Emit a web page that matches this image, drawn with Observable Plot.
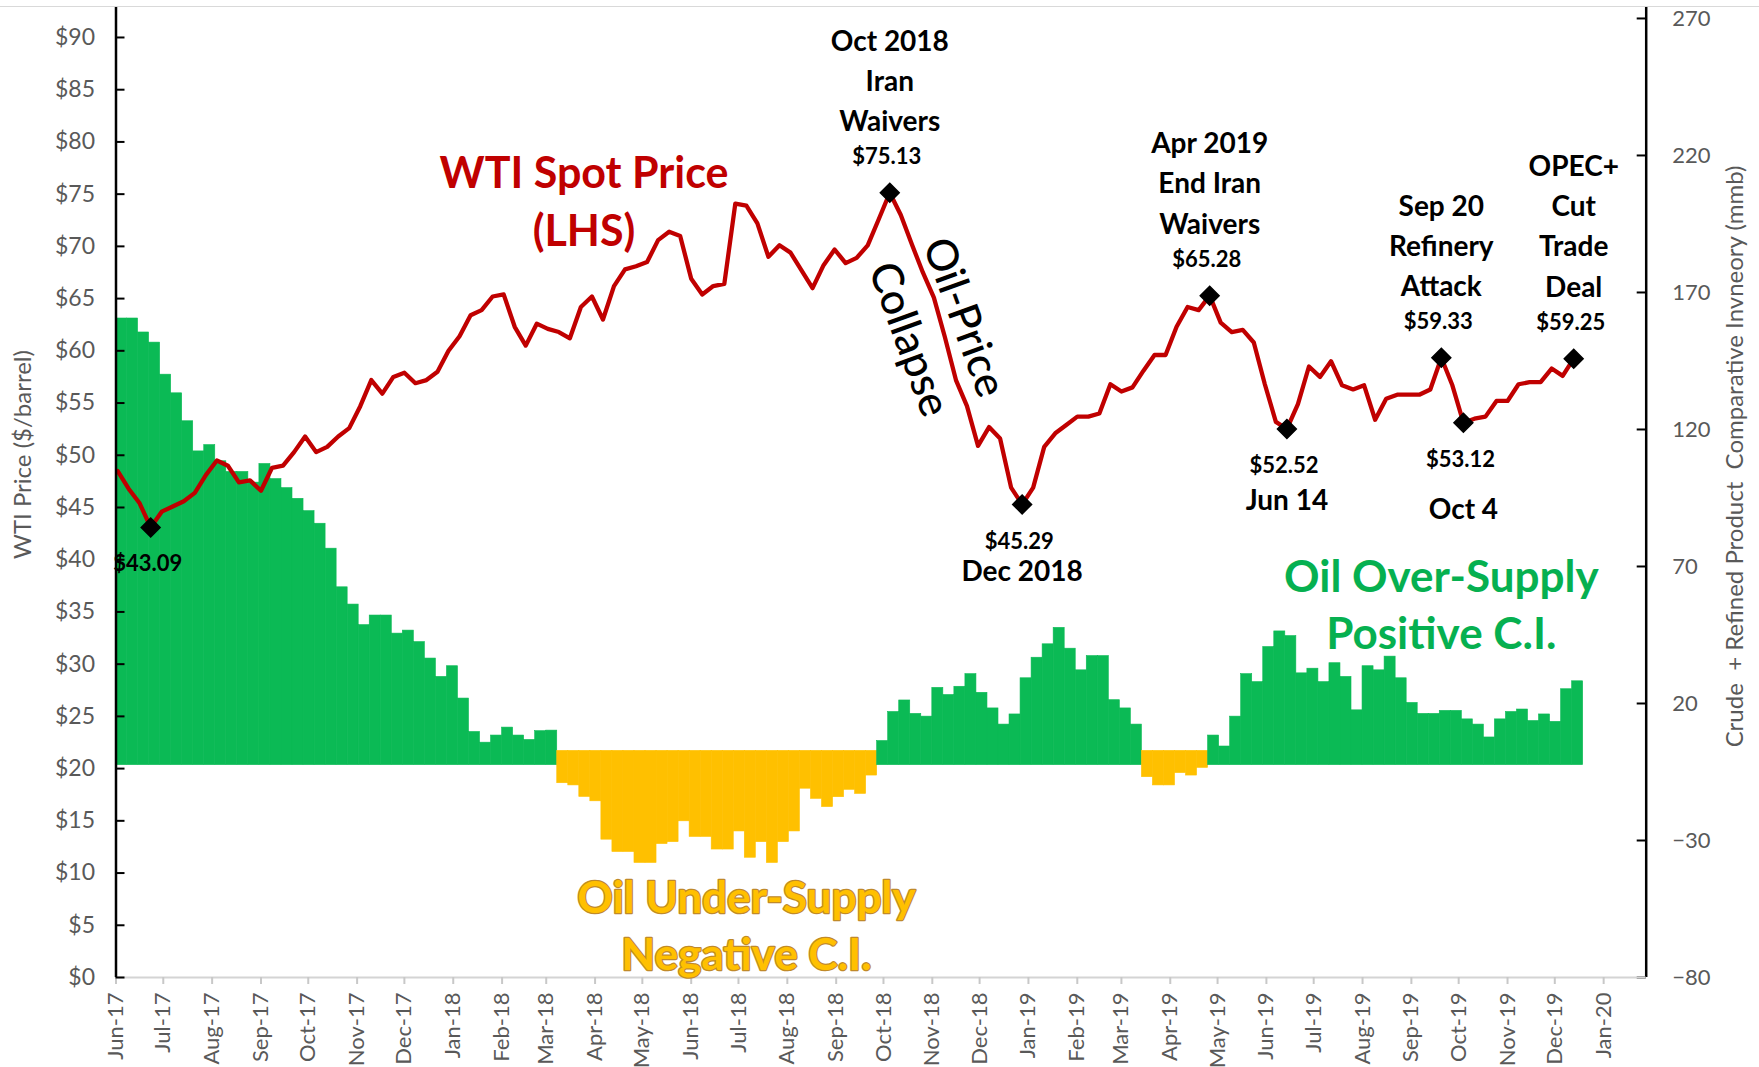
<!DOCTYPE html>
<html><head><meta charset="utf-8">
<script src="https://cdn.jsdelivr.net/npm/d3@7"></script>
<script src="https://cdn.jsdelivr.net/npm/@observablehq/plot@0.6"></script>
<style>
html,body{margin:0;padding:0;background:#fff;}
#wrap{position:relative;width:1759px;height:1067px;overflow:hidden;background:#fff;}
#wrap svg{position:absolute;left:0;top:0;}
#topline{position:absolute;left:0;top:6px;width:1759px;height:1px;background:#d9d9d9;}
svg text{white-space:pre;}
</style></head><body>
<div id="wrap"><div id="topline"></div></div>
<script>
// ---------------- DATA ----------------
const weekStart = "2017-06-02"; // first weekly observation (Fridays)

// WTI weekly spot price ($/barrel), LHS
const wtiPrice = [
 48.5,46.8,45.4,43.09,44.6,45.1,45.6,46.4,48.1,49.5,
 49.0,47.4,47.6,46.6,48.8,49.0,50.3,51.8,50.3,50.8,
 51.8,52.6,54.7,57.2,55.9,57.5,57.9,56.9,57.2,58.0,
 60.0,61.4,63.4,63.9,65.2,65.4,62.3,60.5,62.6,62.1,
 61.8,61.2,64.2,65.2,63.0,66.2,67.8,68.1,68.5,70.6,
 71.4,71.0,66.9,65.4,66.2,66.4,74.1,73.9,72.2,69.0,
 70.1,69.4,67.7,66.0,68.2,69.7,68.4,68.9,70.1,72.6,
 75.13,73.0,70.2,67.5,65.1,61.3,57.2,54.7,50.9,52.7,
 51.6,46.9,45.29,46.9,50.8,52.1,52.9,53.7,53.7,54.0,
 56.8,56.1,56.5,58.1,59.6,59.6,62.3,64.2,63.9,65.28,
 62.7,61.8,62.0,60.8,56.8,53.2,52.52,54.9,58.5,57.5,
 59.0,56.7,56.3,56.7,53.4,55.4,55.8,55.8,55.8,56.3,
 59.33,56.7,53.12,53.5,53.7,55.2,55.2,56.8,57.0,57.0,
 58.3,57.6,59.25
];

// Crude + refined product comparative inventory (mmb), RHS
const ciValues = [
 160.5,160.5,155.4,151.7,140.0,133.2,123.0,112.0,114.3,108.4,
 104.5,104.5,100.6,107.4,101.9,98.6,94.7,90.2,85.6,76.5,
 62.4,56.1,48.6,52.1,52.1,45.5,46.6,42.4,36.4,29.7,
 33.6,21.8,9.6,5.7,8.3,11.2,8.3,6.7,9.9,10.1,
 -9.1,-9.9,-14.1,-15.7,-29.7,-34.2,-34.2,-38.2,-38.2,-31.3,
 -30.6,-23.0,-28.7,-28.7,-33.3,-33.3,-26.7,-36.3,-30.6,-38.2,
 -30.6,-26.7,-11.1,-14.8,-17.8,-14.2,-11.5,-13.0,-6.3,
 6.3,16.9,21.1,16.2,15.2,25.7,23.1,26.1,30.7,23.9,
 18.2,12.3,16.0,29.2,36.7,41.6,47.6,40.0,32.1,37.3,
 37.3,21.2,18.2,12.3,
 -6.9,-9.9,-9.9,-5.4,-6.3,-3.5,
 8.3,4.3,15.2,30.7,27.8,40.6,46.3,44.6,31.0,32.7,
 27.8,34.7,29.7,17.5,33.6,32.1,37.1,29.2,20.2,16.2,
 16.2,17.3,17.3,14.2,12.3,7.6,14.2,16.9,17.8,13.6,
 16.0,13.3,25.2,28.1
];

// Highlighted weeks (index into the weekly series) and their labels
const keyWeeks  = [3, 70, 82, 99, 106, 120, 122, 132];
const keyLabels = ["$43.09","$75.13","$45.29","$65.28","$52.52","$59.33","$53.12","$59.25"];
const keyTitles = ["", "Oct 2018\nIran\nWaivers", "Dec 2018", "Apr 2019\nEnd Iran\nWaivers",
                   "Jun 14", "Sep 20\nRefinery\nAttack", "Oct 4", "OPEC+\nCut\nTrade\nDeal"];

// Axis ticks
const leftTicks  = [0,5,10,15,20,25,30,35,40,45,50,55,60,65,70,75,80,85,90];
const rightTicks = [270,220,170,120,70,20,-30,-80];

// ---------------- BUILD ----------------
const W = 1759, H = 1067;
const mL = 115.5, mR = 113.3, mT = 7, mB = 90;
const plotW = W - mL - mR;
const xDomain = [new Date(Date.UTC(2017,5,1)), new Date(Date.UTC(2020,0,28))];
const monthTicks = d3.utcMonth.range(xDomain[0], d3.utcDay.offset(xDomain[1], 1));
const GREEN = "#0bba55", GOLD = "#ffc000", RED = "#c00000", GREY = "#595959";
const FONT = "Lato, 'Open Sans', sans-serif";

const t0 = new Date(weekStart + "T00:00:00Z");
const weeks = wtiPrice.map((p, i) => ({date: d3.utcDay.offset(t0, 7 * i), price: p, ci: ciValues[i]}));
const events = keyWeeks.map((w, i) => ({
  date: weeks[w].date, price: wtiPrice[w], label: keyLabels[i], title: keyTitles[i],
  peak: wtiPrice[w] > wtiPrice[w - 1], idx: w
}));
const belowTitleDy = {82: 64, 106: 68, 122: 83};

const common = {
  width: W, height: H, marginLeft: mL, marginRight: mR, marginTop: mT, marginBottom: mB,
  style: {fontFamily: FONT, background: "transparent", overflow: "visible"}
};

// Chart 1: inventory bars with the right-hand axis
const bars = Plot.plot({
  ...common,
  x: {type: "utc", domain: xDomain, axis: null},
  y: {domain: [-80, 274], axis: null},
  marks: [
    Plot.rect(weeks, {
      x1: d => d3.utcDay.offset(d.date, -1), x2: d => d3.utcDay.offset(d.date, 6),
      y1: d => d.ci >= 0 ? -2.5 : 2.7, y2: "ci",
      fill: d => d.ci >= 0 ? GREEN : GOLD, stroke: d => d.ci >= 0 ? GREEN : GOLD, strokeWidth: 0.6
    }),
    Plot.ruleX([xDomain[1]], {stroke: "black", strokeWidth: 2.5}),
    Plot.tickY(rightTicks, {y: d => d, insetLeft: plotW - 9, stroke: "black", strokeWidth: 2}),
    Plot.axisY({anchor: "right", ticks: rightTicks, tickSize: 0, tickPadding: 26, fontSize: 22, fill: GREY, label: null}),
    Plot.text(["Crude  + Refined Product  Comparative Invneory (mmb)"], {
      frameAnchor: "right", dx: 89, dy: -36, rotate: -90, fontSize: 24, fill: GREY,
      textAnchor: "middle", lineAnchor: "middle"
    })
  ]
});

// Chart 2: price line, left axis, date axis, annotations
const lineMarks = [
  Plot.ruleY([0], {stroke: "#d4d4d4", strokeWidth: 2}),
  Plot.axisX({ticks: monthTicks, tickFormat: d3.utcFormat("%b-%y"), tickRotate: -90, tickSize: 7,
              tickPadding: 8, fontSize: 22, stroke: "#c8c8c8", strokeWidth: 2, fill: GREY, label: null}),
  Plot.line(weeks, {x: "date", y: "price", stroke: RED, strokeWidth: 4.3, strokeLinejoin: "round"}),
  Plot.dot(events, {x: "date", y: "price", symbol: "diamond2", r: 8.5, fill: "black", stroke: "black"}),
  // price labels
  Plot.text(events.filter(e => e.peak), {x: "date", y: "price", text: "label", dy: -36, dx: -3,
            fontSize: 22, fontWeight: "bold", fill: "black"}),
  Plot.text(events.filter(e => !e.peak), {x: "date", y: "price", text: "label", dy: 37, dx: -3,
            fontSize: 22, fontWeight: "bold", fill: "black"}),
  // free annotations
  Plot.text([{d: new Date(Date.UTC(2018,2,25)), v: 74.6, t: "WTI Spot Price\n(LHS)"}],
            {x: "d", y: "v", text: "t", fontSize: 43, fontWeight: "bold", fill: RED, lineHeight: 1.35}),
  Plot.text([{d: new Date(Date.UTC(2018,10,21)), v: 63.2, t: "Oil-Price"}],
            {x: "d", y: "v", text: "t", fontSize: 43, rotate: 70, fill: "black", fontWeight: 500}),
  Plot.text([{d: new Date(Date.UTC(2018,9,17)), v: 61.1, t: "Collapse"}],
            {x: "d", y: "v", text: "t", fontSize: 43, rotate: 70, fill: "black", fontWeight: 500}),
  Plot.text([{d: new Date(Date.UTC(2019,8,20)), v: 35.9, t: "Oil Over-Supply\nPositive C.I."}],
            {x: "d", y: "v", text: "t", fontSize: 44, fontWeight: "bold", fill: "#06b050", lineHeight: 1.28}),
  Plot.text([{d: new Date(Date.UTC(2018,6,6)), v: 5.2, t: "Oil Under-Supply\nNegative C.I."}],
            {x: "d", y: "v", text: "t", fontSize: 44, fontWeight: "bold", fill: GOLD, stroke: "#c08a2a",
             strokeWidth: 2.5, paintOrder: "stroke", lineHeight: 1.3}),
  // left axis
  Plot.ruleX([xDomain[0]], {stroke: "black", strokeWidth: 2.5}),
  Plot.tickY(leftTicks, {y: d => d, insetRight: plotW - 9, stroke: "black", strokeWidth: 2}),
  Plot.axisY({ticks: leftTicks, tickFormat: d => "$" + d, tickSize: 0, tickPadding: 21, fontSize: 23, fill: GREY, label: null}),
  Plot.text(["WTI Price ($/barrel)"], {frameAnchor: "left", dx: -92.5, dy: -38, rotate: -90, fontSize: 24,
            fill: GREY, textAnchor: "middle", lineAnchor: "middle"})
];
// event titles
for (const e of events) {
  if (!e.title) continue;
  const n = e.title.split("\n").length;
  const dy = e.peak ? -75 - (n - 1) * 20 : belowTitleDy[e.idx];
  lineMarks.push(Plot.text([e], {x: "date", y: "price", text: "title", dy, fontSize: 28,
    fontWeight: "bold", fill: "black", lineHeight: 1.43, lineAnchor: "middle"}));
}

const line = Plot.plot({
  ...common,
  x: {type: "utc", domain: xDomain},
  y: {domain: [0, 92.87]},
  marks: lineMarks
});

const wrap = document.getElementById("wrap");
wrap.appendChild(bars);
wrap.appendChild(line);
</script>
</body></html>
